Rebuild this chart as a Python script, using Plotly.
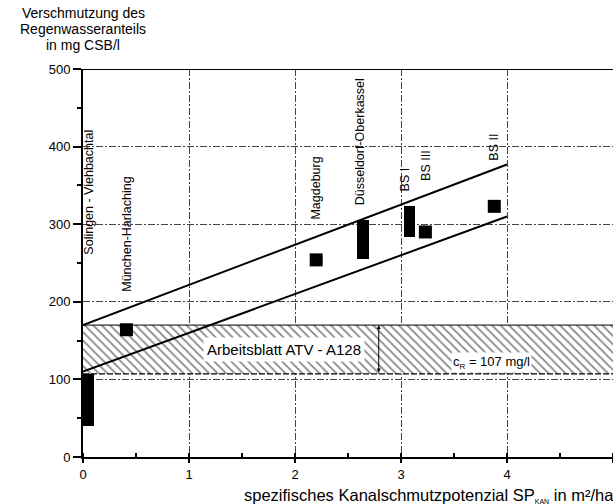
import plotly.graph_objects as go

# ---- data ----
range_names = ["Solingen - Viehbachtal", "Düsseldorf-Oberkassel", "BS I"]
range_x = [0.05, 2.64, 3.08]
range_low = [40, 255, 284]
range_high = [140, 305, 323]

point_names = ["München-Harlaching", "Magdeburg", "BS III", "BS II"]
point_x = [0.41, 2.20, 3.23, 3.88]
point_y = [164, 254, 290, 323]

upper_line_x = [0, 4]
upper_line_y = [170, 377]
lower_line_x = [0, 4]
lower_line_y = [110, 310]

band_low = 107
band_high = 170

label_names = ["Solingen - Viehbachtal", "München-Harlaching", "Magdeburg",
               "Düsseldorf-Oberkassel", "BS I", "BS III", "BS II"]
label_x = [0.06, 0.415, 2.20, 2.61, 3.04, 3.23, 3.88]
label_y = [258, 211, 303, 322, 340, 353, 379]

x_ticks = [0, 1, 2, 3, 4, 5]
y_ticks = [0, 100, 200, 300, 400, 500]

y_title_lines = ["Verschmutzung des", "Regenwasseranteils", "in mg CSB/l"]

FONT = "Liberation Sans, Arial, sans-serif"
GRID_DASH = "7px,2px,2px,2px"

fig = go.Figure()

# hatched band (Arbeitsblatt ATV - A128)
fig.add_trace(go.Scatter(
    x=[0, 5.2, 5.2, 0, 0], y=[band_low, band_low, band_high, band_high, band_low],
    mode="lines", fill="toself", line=dict(width=0, color="rgba(0,0,0,0)"),
    fillcolor="white",
    fillpattern=dict(shape="\\", fgcolor="#111111", bgcolor="white", size=6, solidity=0.3),
    hoverinfo="skip", showlegend=False))
fig.add_trace(go.Scatter(x=[0, 5.2], y=[band_high, band_high], mode="lines",
                         line=dict(color="black", width=1), showlegend=False))
fig.add_trace(go.Scatter(x=[0, 5.2], y=[band_low, band_low], mode="lines",
                         line=dict(color="black", width=1.2, dash="6px,2px"), showlegend=False))

# regression band lines
fig.add_trace(go.Scatter(x=upper_line_x, y=upper_line_y, mode="lines",
                         line=dict(color="black", width=2), showlegend=False))
fig.add_trace(go.Scatter(x=lower_line_x, y=lower_line_y, mode="lines",
                         line=dict(color="black", width=2), showlegend=False))

# range bars
fig.add_trace(go.Bar(
    x=range_x, y=[h - l for h, l in zip(range_high, range_low)], base=range_low,
    width=0.11, marker=dict(color="black", line=dict(width=0)), showlegend=False))

# single points
fig.add_trace(go.Scatter(x=point_x, y=point_y, mode="markers",
                         marker=dict(symbol="square", size=13, color="black"),
                         showlegend=False))

annotations = []
for name, lx, ly in zip(label_names, label_x, label_y):
    annotations.append(dict(x=lx, y=ly, xref="x", yref="y", text=name, textangle=-90,
                            showarrow=False, xanchor="center", yanchor="bottom",
                            font=dict(family=FONT, size=12.5, color="black")))

for line, py in zip(y_title_lines, [1.145, 1.104, 1.063]):
    annotations.append(dict(x=0.0, y=py, xref="paper", yref="paper", xanchor="center",
                            yanchor="middle", text=line, showarrow=False,
                            font=dict(family=FONT, size=14, color="black")))

annotations += [
    dict(x=1.9, y=139, xref="x", yref="y", text="Arbeitsblatt ATV - A128", showarrow=False,
         bgcolor="white", borderpad=3, font=dict(family=FONT, size=15, color="black")),
    dict(x=3.85, y=122, xref="x", yref="y",
         text="c<sub><span style='font-size:8px'>R</span></sub> = 107 mg/l", showarrow=False,
         bgcolor="white", borderpad=1, font=dict(family=FONT, size=13, color="black")),
    dict(x=2.79, y=band_high, ax=2.79, ay=band_low, xref="x", yref="y", axref="x", ayref="y",
         text="", showarrow=True, arrowhead=2, arrowside="end+start", arrowsize=0.8,
         arrowwidth=1, arrowcolor="black"),
    dict(x=1.005, y=-0.098, xref="paper", yref="paper", xanchor="right", yanchor="middle",
         text="spezifisches Kanalschmutzpotenzial SP<sub><span style='font-size:7px'>KAN</span></sub> in m²/ha",
         showarrow=False, font=dict(family=FONT, size=16.5, color="black")),
]

fig.update_layout(
    width=613, height=504,
    margin=dict(l=83, r=0, t=69, b=47),
    paper_bgcolor="white", plot_bgcolor="white",
    font=dict(family=FONT, size=13, color="black"),
    annotations=annotations,
    shapes=[dict(type="line", xref="paper", yref="y", x0=0, x1=1, y0=500, y1=500,
                 line=dict(color="black", width=2))],
    bargap=0,
)
fig.update_xaxes(range=[0, 5.0], tickvals=x_ticks, ticktext=[str(v) for v in x_ticks],
                 showline=True, linecolor="black", linewidth=2,
                 ticks="outside", ticklen=4, tickcolor="black", tickwidth=1.5,
                 minor=dict(dtick=0.5, ticks="inside", ticklen=4, tickcolor="black", showgrid=False),
                 showgrid=True, gridcolor="#444444", gridwidth=1, griddash=GRID_DASH,
                 zeroline=False, tickfont=dict(size=13))
fig.update_yaxes(range=[0, 500], tickvals=y_ticks, ticktext=[str(v) for v in y_ticks],
                 showline=True, linecolor="black", linewidth=2,
                 ticks="outside", ticklen=8, tickcolor="black", tickwidth=1.5,
                 minor=dict(dtick=50, ticks="outside", ticklen=4, tickcolor="black", showgrid=False),
                 showgrid=True, gridcolor="#444444", gridwidth=1, griddash=GRID_DASH,
                 zeroline=False, tickfont=dict(size=13))

fig.write_html("out.html", config={"displayModeBar": False},
               post_script="document.body.style.margin='0';")
